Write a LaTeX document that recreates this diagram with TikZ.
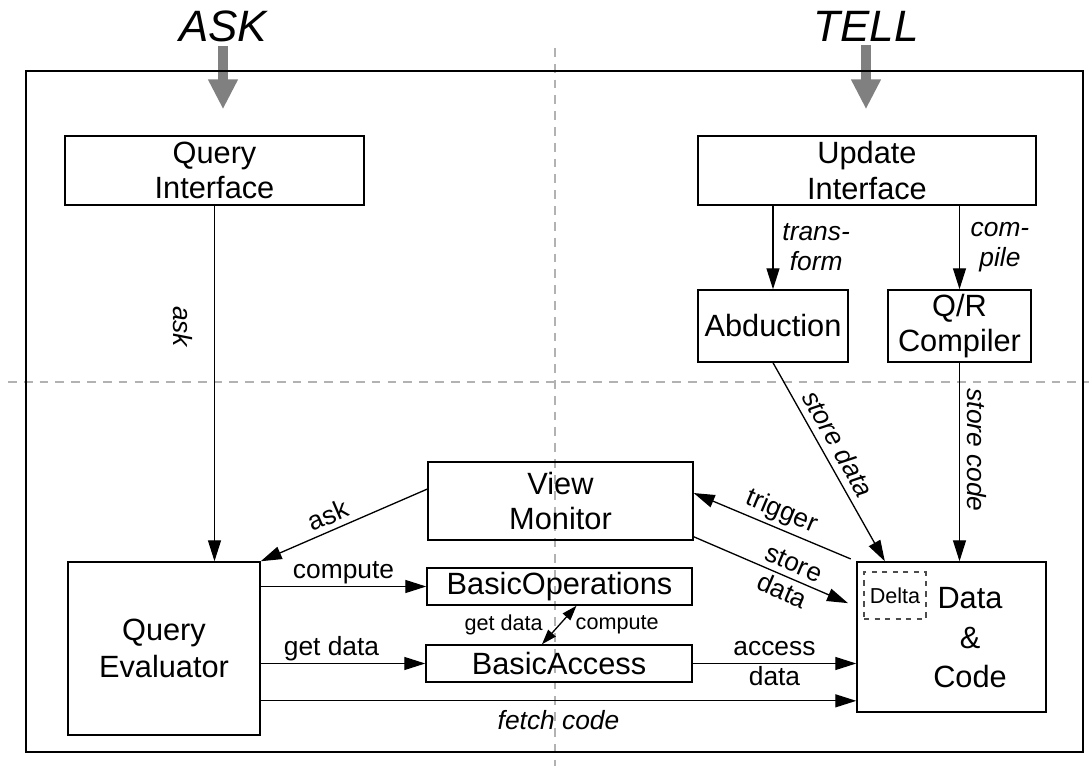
\documentclass[tikz,border=0pt]{standalone}
\usepackage{fontspec}
\setmainfont{Liberation Sans}
\usetikzlibrary{arrows.meta,calc,positioning}
\newcommand{\boxfont}{\fontsize{17.5}{20}\selectfont}
\newcommand{\lblfont}{\fontsize{15}{17}\selectfont}
\newcommand{\smalllbl}{\fontsize{12.3}{14}\selectfont}
\newcommand{\bigfont}{\fontsize{25}{30}\selectfont}
\tikzset{>={Triangle[length=0.42cm,width=0.26cm]},
	box/.style={% component boxes
		draw, rectangle,
		line width=0.85pt,
		inner sep=0pt,
		align=center,
		font=\boxfont
	},
	flow/.style={->, line width=0.75pt},
	twoway/.style={{Triangle[length=0.3cm,width=0.2cm]}-{Triangle[length=0.3cm,width=0.2cm]}, line width=0.75pt},
	lbl/.style={font=\lblfont, inner sep=0pt, align=center},
	ilbl/.style={lbl, font=\lblfont\itshape},
	guide/.style={draw=black!30, line width=1.1pt, dash pattern=on 5pt off 4pt},
	bigarrow/.style={draw=black!50, line width=0.2cm, -{Triangle[length=0.6cm,width=0.56cm]}}
}
\begin{document}
\begin{tikzpicture}[x=0.02cm, y=-0.02cm]
		\useasboundingbox (0,0) rectangle (1089,766);
		% quadrant guides
		\draw[guide] (555,48) -- (555,766);
		\draw[guide] (8,382) -- (1089,382);
		
		\node[font=\bigfont\itshape, inner sep=0pt] (ask) at (223,26) {ASK};
		\node[font=\bigfont\itshape, inner sep=0pt] (tell) at (866,26) {TELL};
		
		\node[box, minimum width=5.98cm, minimum height=1.38cm] (qi) at (214.5,170.5) {Query\\Interface};
		\node[box, minimum width=6.76cm, minimum height=1.38cm] (ui) at (867,170.5) {Update\\Interface};
		\node[box, minimum width=3.0cm, minimum height=1.44cm] (abd) at (773,326) {Abduction};
		\node[box, minimum width=2.86cm, minimum height=1.44cm] (qrc) at (959.5,326) {Q/R\\Compiler};
		\node[box, minimum width=5.3cm, minimum height=1.56cm] (vm) at (560.5,501) {View\\Monitor};
		\node[box, minimum width=3.84cm, minimum height=3.46cm, font=\fontsize{17.5}{21.5}\selectfont] (qe) at (164,648.5) {Query\\Evaluator};
		\node[box, minimum width=5.3cm, minimum height=0.74cm] (bo) at (559.5,586.5) {BasicOperations};
		\node[box, minimum width=5.32cm, minimum height=0.74cm] (ba) at (559,663.5) {BasicAccess};
		\node[box, minimum width=3.78cm, minimum height=3.0cm] (dc) at (951.5,637) {};
		\node[font=\fontsize{17.5}{22.5}\selectfont, align=center, inner sep=0pt] (dctext) at (970,638) {Data\\\&\\Code};
		\node[draw=black!70, dashed, line width=0.7pt, minimum width=1.24cm, minimum height=0.94cm, inner sep=0pt, font=\smalllbl] (delta) at (895,595.5) {Delta};
		
		% ASK / TELL entries
		\draw[bigarrow, shorten <=0.08cm, shorten >=0.52cm] (ask.south) -- (ask.south |- qi.north);
		\draw[bigarrow, shorten <=0.08cm, shorten >=0.52cm] (tell.south) -- (tell.south |- ui.north);
		\draw[line width=0.85pt] (26,71) rectangle (1083,752);
		
		% update side
		\draw[flow] (abd.north |- ui.south) -- (abd.north)
		node[ilbl, midway, right=5pt] {trans-\\form};
		\draw[flow] (qrc.north |- ui.south) -- (qrc.north)
		node[ilbl, midway, right=6pt] {com-\\pile};
		\draw[flow] (abd.south) -- ($(dc.north west)!0.15!(dc.north east)$)
		node[ilbl, pos=0.45, sloped, above=4pt] {store data};
		\draw[flow] (qrc.south) -- (qrc.south |- dc.north)
		node[ilbl, pos=0.44, sloped, above=4pt] {store code};
		
		% query side
		\draw[flow] (qi.south) -- (qi.south |- qe.north)
		node[ilbl, pos=0.34, sloped, below=12pt] {ask};
		\draw[flow] ($(vm.north west)!0.35!(vm.south west)$) -- (qe.north east)
		node[lbl, pos=0.56, sloped, above=3pt] {ask};
		\draw[flow, shorten <=0.12cm] (dc.north west) -- ($(vm.north east)!0.4!(vm.south east)$)
		node[lbl, midway, sloped, above=2pt] {trigger};
		\draw[flow, shorten >=0.18cm] ($(vm.north east)!0.95!(vm.south east)$) -- ($(dc.north west)!0.3!(dc.south west)$)
		node[lbl, pos=0.58, sloped] {store\\data};
		\draw[flow] (qe.east |- bo.west) -- (bo.west)
		node[lbl, midway, above=1pt] {compute};
		\draw[flow] (qe.east |- ba.west) -- (ba.west)
		node[lbl, pos=0.43, above=1pt] {get data};
		\draw[twoway] ($(bo.south)+(17,0)$) -- ($(ba.north)+(-17,0)$)
		node[lbl, font=\smalllbl, midway, left=9pt] {get data}
		node[lbl, font=\smalllbl, midway, right=9pt] {compute};
		\draw[flow] (ba.east) -- (ba.east -| dc.west)
		node[lbl, midway] {access\\data};
		\coordinate (fetch) at ($(qe.north east)!0.8!(qe.south east)$);
		\draw[flow] (fetch) -- (fetch -| dc.west)
		node[ilbl, midway, below=5pt] {fetch code};
\end{tikzpicture}
\end{document}
